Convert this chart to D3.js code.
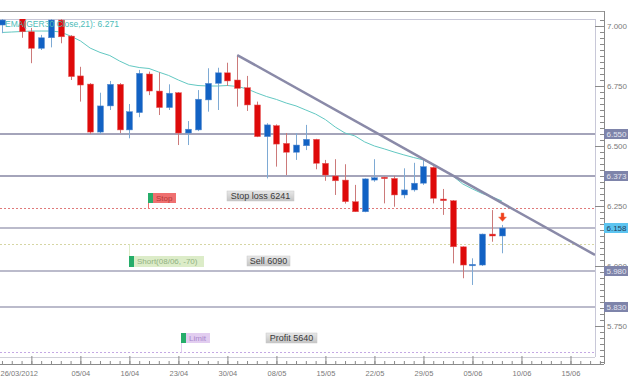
<!DOCTYPE html>
<html>
<head>
<meta charset="utf-8">
<script src="https://cdn.jsdelivr.net/npm/d3@7"></script>
<style>
body { margin: 0; background: #fff; }
svg { display: block; font-family: "Liberation Sans", Arial, sans-serif; }
</style>
</head>
<body>
<svg id="chart"></svg>
<script>
(function() {

// trading days, 26/03/2012 -> 08/06/2012
const days = ["26/03","27/03","28/03","29/03","30/03","02/04","03/04","04/04","05/04","10/04",
  "11/04","12/04","13/04","16/04","17/04","18/04","19/04","20/04","23/04","24/04",
  "25/04","26/04","27/04","30/04","02/05","03/05","04/05","07/05","08/05","09/05",
  "10/05","11/05","14/05","15/05","16/05","17/05","18/05","21/05","22/05","23/05",
  "24/05","25/05","28/05","29/05","30/05","31/05","01/06","04/06","05/06","06/06",
  "07/06","08/06"];
const opens  = [7.004,7.060,7.030,6.976,6.907,6.951,7.025,6.958,6.792,6.758,
  6.558,6.667,6.757,6.567,6.639,6.800,6.729,6.660,6.722,6.554,
  6.567,6.692,6.761,6.805,6.775,6.743,6.671,6.539,6.585,6.511,
  6.474,6.501,6.528,6.428,6.375,6.358,6.268,6.226,6.358,6.370,
  6.365,6.296,6.317,6.345,6.411,6.279,6.272,6.080,6.001,6.004,
  6.133,6.125];
const highs  = [7.040,7.090,7.040,6.992,6.963,7.035,7.035,6.962,6.830,6.762,
  6.722,6.771,6.762,6.675,6.817,6.810,6.807,6.757,6.725,6.604,
  6.733,6.824,6.826,6.847,6.879,6.792,6.685,6.595,6.590,6.554,
  6.553,6.588,6.530,6.442,6.445,6.424,6.338,6.365,6.445,6.372,
  6.376,6.407,6.430,6.442,6.415,6.321,6.275,6.082,6.032,6.135,
  6.233,6.171];
const lows   = [6.970,7.035,6.951,6.845,6.900,6.911,6.928,6.775,6.685,6.550,
  6.550,6.650,6.554,6.532,6.620,6.712,6.629,6.650,6.504,6.504,
  6.562,6.643,6.650,6.750,6.664,6.646,6.537,6.365,6.414,6.379,
  6.442,6.483,6.403,6.355,6.296,6.260,6.225,6.224,6.351,6.261,
  6.247,6.282,6.310,6.338,6.261,6.213,6.011,5.949,5.921,6.000,
  6.101,6.053];
const closes = [7.025,7.045,6.976,6.907,6.951,7.025,6.955,6.789,6.754,6.558,
  6.667,6.757,6.567,6.643,6.803,6.729,6.660,6.720,6.554,6.570,
  6.695,6.761,6.805,6.771,6.740,6.671,6.539,6.588,6.508,6.474,
  6.504,6.528,6.428,6.379,6.355,6.268,6.226,6.363,6.368,6.365,
  6.296,6.317,6.345,6.414,6.282,6.272,6.080,6.004,6.007,6.133,
  6.125,6.158];
// EMA(21) as drawn on the chart
const ema21 = [6.973,6.975,6.977,6.979,6.979,6.979,6.975,6.958,6.938,6.908,
  6.890,6.877,6.854,6.835,6.827,6.823,6.808,6.794,6.775,6.758,
  6.752,6.750,6.750,6.752,6.748,6.738,6.721,6.706,6.694,6.679,
  6.667,6.650,6.633,6.610,6.579,6.554,6.542,6.517,6.500,6.488,
  6.475,6.463,6.452,6.442,6.421,6.400,6.375,6.342,6.321,6.302,
  6.288,6.271];

const tickLabels = ["26/03/2012","05/04","16/04","23/04","30/04","08/05","15/05","22/05","29/05","05/06","10/06","15/06"];
const tickIndex  = [0,8,13,18,23,28,33,38,43,48,53,58];

const priceTicks = [7.0, 6.75, 6.5, 6.25, 6.0, 5.75];
const levels = [6.550, 6.373, 6.158, 5.980, 5.830];
const stopLoss = 6.241, sellPrice = 6.090, profitTarget = 5.640;
const trendLine = [[24, 6.879], [60.5, 6.046]];

const width = 640, height = 382;
const plotRight = 595, plotTop = 19, plotBottom = 357, axisX = 604, axisY = 364;

const svg = d3.select("#chart").attr("width", width).attr("height", height);

const x = d3.scaleLinear().domain([-0.2, 60.5]).range([0, plotRight]);
const y = d3.scaleLinear().domain([5.6, 7.0]).range([362, 26]);

svg.append("clipPath").attr("id", "plot-clip")
  .append("rect").attr("x", 0).attr("y", plotTop).attr("width", plotRight).attr("height", plotBottom - plotTop);

// frames
svg.append("line").attr("x1", 0).attr("x2", axisX).attr("y1", 11.5).attr("y2", 11.5).attr("stroke", "#9a9a9a");
svg.append("line").attr("x1", 0).attr("x2", plotRight).attr("y1", plotTop + .5).attr("y2", plotTop + .5).attr("stroke", "#c8c8d8");
svg.append("line").attr("x1", plotRight + .5).attr("x2", plotRight + .5).attr("y1", plotTop).attr("y2", plotBottom).attr("stroke", "#c8c8d8");
svg.append("line").attr("x1", 0).attr("x2", plotRight).attr("y1", plotBottom + .5).attr("y2", plotBottom + .5).attr("stroke", "#d0d0d8");
svg.append("line").attr("x1", axisX + .5).attr("x2", axisX + .5).attr("y1", 11).attr("y2", axisY).attr("stroke", "#8a8a8a");

const plot = svg.append("g").attr("clip-path", "url(#plot-clip)");

// horizontal levels
plot.selectAll(".level").data(levels).join("line")
  .attr("x1", 0).attr("x2", plotRight)
  .attr("y1", d => Math.round(y(d))).attr("y2", d => Math.round(y(d)))
  .attr("stroke", "#a4a4ba")
  .attr("stroke-width", (d, i) => i < 2 ? 2 : 1.3);

// order lines
const orderLines = [
  {v: stopLoss, c: "#e07a7a"},
  {v: sellPrice, c: "#d6d6a4"},
  {v: profitTarget, c: "#c4a8e4"}
];
plot.selectAll(".order").data(orderLines).join("line")
  .attr("x1", 0).attr("x2", plotRight)
  .attr("y1", d => Math.round(y(d.v)) + .5).attr("y2", d => Math.round(y(d.v)) + .5)
  .attr("stroke", d => d.c).attr("stroke-dasharray", "2,2");

// EMA
plot.append("path").datum(ema21)
  .attr("fill", "none").attr("stroke", "#62c8c2").attr("stroke-width", 1)
  .attr("d", d3.line().x((d, i) => x(i)).y(d => y(d)));

// candles
const candles = days.map((d, i) => ({i, o: opens[i], h: highs[i], l: lows[i], c: closes[i]}));
const cg = plot.selectAll(".candle").data(candles).join("g");
cg.append("line")
  .attr("x1", d => Math.round(x(d.i)) + .5).attr("x2", d => Math.round(x(d.i)) + .5)
  .attr("y1", d => y(d.h)).attr("y2", d => y(d.l))
  .attr("stroke", d => d.c >= d.o ? "#7eaad4" : "#cc7a7a");
cg.append("rect")
  .attr("x", d => Math.round(x(d.i)) - 2.5).attr("width", 6)
  .attr("y", d => y(Math.max(d.o, d.c)))
  .attr("height", d => Math.max(1.5, Math.abs(y(d.o) - y(d.c))))
  .attr("fill", d => d.c >= d.o ? "#1262c4" : "#de0a0a")
  .attr("stroke", d => d.c >= d.o ? "#5a8ed0" : "#e86060").attr("stroke-width", .5);

// trend line
plot.append("line")
  .attr("x1", x(trendLine[0][0])).attr("y1", y(trendLine[0][1]))
  .attr("x2", x(trendLine[1][0])).attr("y2", y(trendLine[1][1]))
  .attr("stroke", "#8a8aa8").attr("stroke-width", 2.5);

// signal arrow over last candle
const last = candles[candles.length - 1];
const ax = Math.round(x(last.i)) + .5, ay = y(last.h) - 4;
svg.append("path")
  .attr("d", `M${ax - 1.5},${ay - 8} h3 v4 h2.5 l-4,4.5 l-4,-4.5 h2.5 z`)
  .attr("fill", "#f0401c").attr("stroke", "#f08a6a").attr("stroke-width", .5);

// right axis
const minor = d3.range(5.6, 7.03, 0.025);
svg.append("g").attr("transform", `translate(${axisX},0)`)
  .call(d3.axisRight(y).tickValues(minor).tickSizeInner(-4).tickSizeOuter(0).tickFormat(""))
  .call(g => g.select(".domain").remove())
  .call(g => g.selectAll("line").attr("stroke", "#8a8a8a"));
svg.append("g").attr("transform", `translate(${axisX},0)`)
  .call(d3.axisRight(y).tickValues(priceTicks).tickSizeInner(-9).tickSizeOuter(0).tickPadding(3).tickFormat(d3.format(".3f")))
  .call(g => g.select(".domain").remove())
  .call(g => g.selectAll("line").attr("stroke", "#8a8a8a"))
  .call(g => g.selectAll("text").attr("fill", "#7a7a7a").attr("font-size", 8)
    .attr("font-family", "Liberation Sans, Arial, sans-serif"));

// highlighted level labels
const tags = levels.map(v => ({v, cyan: v === closes[closes.length - 1]}));
const tg = svg.selectAll(".tag").data(tags).join("g")
  .attr("transform", d => `translate(${axisX},${Math.round(y(d.v))})`);
tg.append("rect").attr("x", 0).attr("y", -5).attr("width", 24).attr("height", 10)
  .attr("fill", d => d.cyan ? "#5cc4f0" : "#7e84aa");
tg.append("text").attr("x", 2.5).attr("y", 0).attr("dy", "0.35em")
  .attr("font-size", 8).attr("fill", d => d.cyan ? "#1e3e5c" : "#e4e4f0")
  .text(d => d3.format(".3f")(d.v));

// bottom axis
svg.append("line").attr("x1", 0).attr("x2", axisX).attr("y1", axisY + .5).attr("y2", axisY + .5).attr("stroke", "#8a8a8a");
const xb = svg.append("g").attr("transform", `translate(0,${axisY})`);
xb.call(d3.axisBottom(x).tickValues(d3.range(0, 62)).tickSizeInner(-3).tickSizeOuter(0).tickFormat(""))
  .call(g => g.select(".domain").remove())
  .call(g => g.selectAll("line").attr("stroke", "#8a8a8a"));
svg.append("g").attr("transform", `translate(0,${axisY})`)
  .call(d3.axisBottom(x).tickValues(d3.range(3, 62, 5)).tickSizeInner(-8).tickSizeOuter(0).tickFormat(""))
  .call(g => g.select(".domain").remove())
  .call(g => g.selectAll("line").attr("stroke", "#8a8a8a"));
svg.append("g").attr("transform", `translate(0,${axisY})`)
  .call(d3.axisBottom(x).tickValues(tickIndex).tickSize(0).tickPadding(7)
    .tickFormat(d => tickLabels[tickIndex.indexOf(d)]))
  .call(g => g.select(".domain").remove())
  .call(g => g.selectAll("text").attr("fill", "#7a7a7a").attr("font-size", 7.5)
    .attr("font-family", "Liberation Sans, Arial, sans-serif"))
  .call(g => g.selectAll("text").filter(d => d === 0).attr("text-anchor", "start").attr("x", -2));

// legend
svg.append("text").attr("x", 5).attr("y", 27)
  .attr("font-size", 8.5).attr("fill", "#4cbcb8")
  .text(`EMA(GER30 Close,21): ${d3.format(".3f")(ema21[ema21.length - 1])}`);

// order tags
const orderTags = [
  {v: stopLoss, x: 148, y: 193, w: 28, h: 10, bg: "#ef7070", fg: "#b43838", text: "Stop"},
  {v: sellPrice, x: 129, y: 256, w: 75, h: 11, bg: "#dcecc8", fg: "#92b282", text: "Short(08/06, -70)"},
  {v: profitTarget, x: 181, y: 333, w: 29, h: 10, bg: "#e2cdf0", fg: "#a888cc", text: "Limit"}
];
orderTags.forEach(t => {
  const ly = Math.round(y(t.v)) + .5;
  svg.append("line").attr("x1", t.x + .5).attr("x2", t.x + .5)
    .attr("y1", t.y < ly ? t.y + t.h : t.y).attr("y2", ly)
    .attr("stroke", t.bg).attr("stroke-width", 1);
  svg.append("rect").attr("x", t.x).attr("y", t.y).attr("width", t.w).attr("height", t.h).attr("fill", t.bg);
  svg.append("rect").attr("x", t.x).attr("y", t.y).attr("width", 5).attr("height", t.h).attr("fill", "#26ad6a");
  svg.append("text").attr("x", t.x + 8).attr("y", t.y + t.h / 2).attr("dy", "0.35em")
    .attr("font-size", 8).attr("fill", t.fg).text(t.text);
});

// price boxes
const defs = svg.append("defs");
const grad = defs.append("linearGradient").attr("id", "boxgrad").attr("x1", 0).attr("x2", 0).attr("y1", 0).attr("y2", 1);
grad.append("stop").attr("offset", "0%").attr("stop-color", "#e8e8e8");
grad.append("stop").attr("offset", "100%").attr("stop-color", "#c4c4c4");
const priceBoxes = [
  {x: 227, y: 191, w: 67, text: `Stop loss ${Math.round(stopLoss * 1000)}`},
  {x: 247, y: 256, w: 43, text: `Sell ${Math.round(sellPrice * 1000)}`},
  {x: 266, y: 333, w: 51, text: `Profit ${Math.round(profitTarget * 1000)}`}
];
priceBoxes.forEach(b => {
  svg.append("rect").attr("x", b.x).attr("y", b.y).attr("width", b.w).attr("height", 10)
    .attr("fill", "url(#boxgrad)").attr("stroke", "#c8c8c8").attr("stroke-width", .5);
  svg.append("text").attr("x", b.x + b.w / 2).attr("y", b.y + 5).attr("dy", "0.35em")
    .attr("text-anchor", "middle").attr("font-size", 9).attr("fill", "#3a3a3a").text(b.text);
});

})();
</script>
</body>
</html>
